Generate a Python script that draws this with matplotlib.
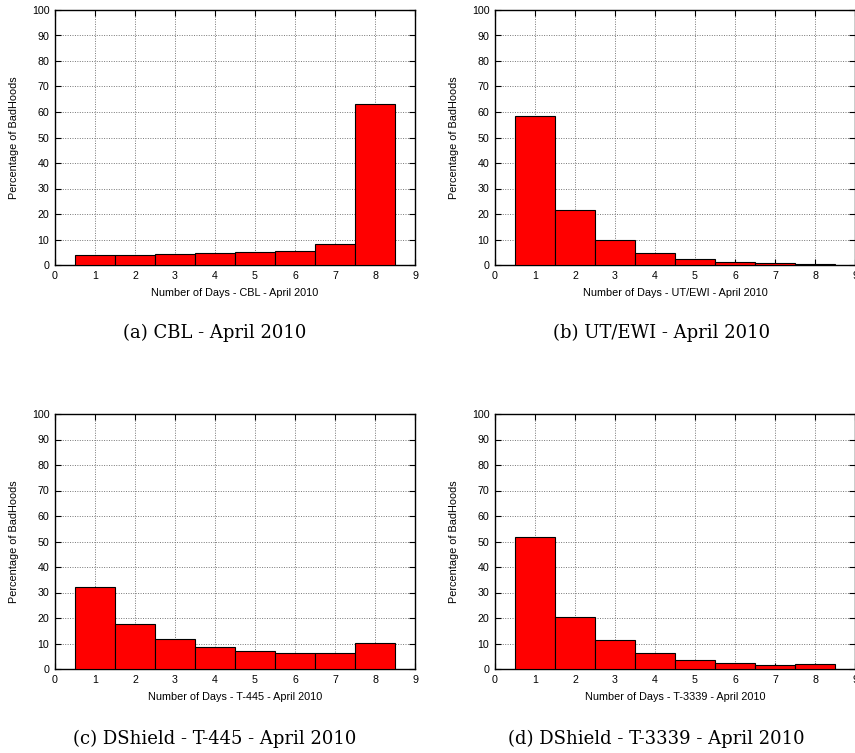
import matplotlib
matplotlib.use("Agg")
import matplotlib.pyplot as plt
import numpy as np

plt.rcParams['font.family'] = ['Liberation Sans', 'DejaVu Sans']

days = [1, 2, 3, 4, 5, 6, 7, 8]
cbl = [3.8, 4.0, 4.5, 4.9, 5.2, 5.6, 8.3, 63.3]
utewi = [58.6, 21.5, 9.8, 4.9, 2.5, 1.3, 0.6, 0.2]
t445 = [32.2, 17.8, 11.9, 8.5, 7.1, 6.2, 6.1, 10.3]
t3339 = [51.6, 20.5, 11.2, 6.4, 3.5, 2.5, 1.7, 2.0]

xlabels = ["Number of Days - CBL - April 2010",
           "Number of Days - UT/EWI - April 2010",
           "Number of Days - T-445 - April 2010",
           "Number of Days - T-3339 - April 2010"]
captions = ["(a) CBL - April 2010",
            "(b) UT/EWI - April 2010",
            "(c) DShield - T-445 - April 2010",
            "(d) DShield - T-3339 - April 2010"]

W, H = 855, 753
fig = plt.figure(figsize=(W / 100, H / 100), dpi=100)

# axes boxes in pixels: left, top, right, bottom
boxes = [(55, 10, 415, 265), (495, 10, 855, 265),
         (55, 414, 415, 669), (495, 414, 855, 669)]
cap_pos = [(215, 333), (662, 333), (215, 739), (656, 739)]
series = [cbl, utewi, t445, t3339]

for box, vals, xl, cap, cp in zip(boxes, series, xlabels, captions, cap_pos):
    l, t, r, b = box
    ax = fig.add_axes([l / W, 1 - b / H, (r - l) / W, (b - t) / H])
    ax.bar(days, vals, width=1.0, color='#ff0000', edgecolor='black', linewidth=0.8, zorder=3)
    ax.set_xlim(0, 9)
    ax.set_ylim(0, 100)
    ax.set_xticks(range(0, 10))
    ax.set_yticks(range(0, 101, 10))
    ax.grid(True, color='#777777', linestyle=(0, (1, 1.5)), linewidth=0.7, zorder=0)
    ax.tick_params(direction='in', top=True, right=True, labelsize=7.7, length=4, width=0.8, pad=4)
    for s in ax.spines.values():
        s.set_linewidth(1.0)
    ax.set_xlabel(xl, fontsize=7.8, labelpad=5)
    ax.set_ylabel("Percentage of BadHoods", fontsize=7.8, labelpad=9)
    fig.text(cp[0] / W, 1 - cp[1] / H, cap, ha='center', va='center',
             fontsize=13, family=['DejaVu Serif'])

fig.savefig("out.png", dpi=100)
